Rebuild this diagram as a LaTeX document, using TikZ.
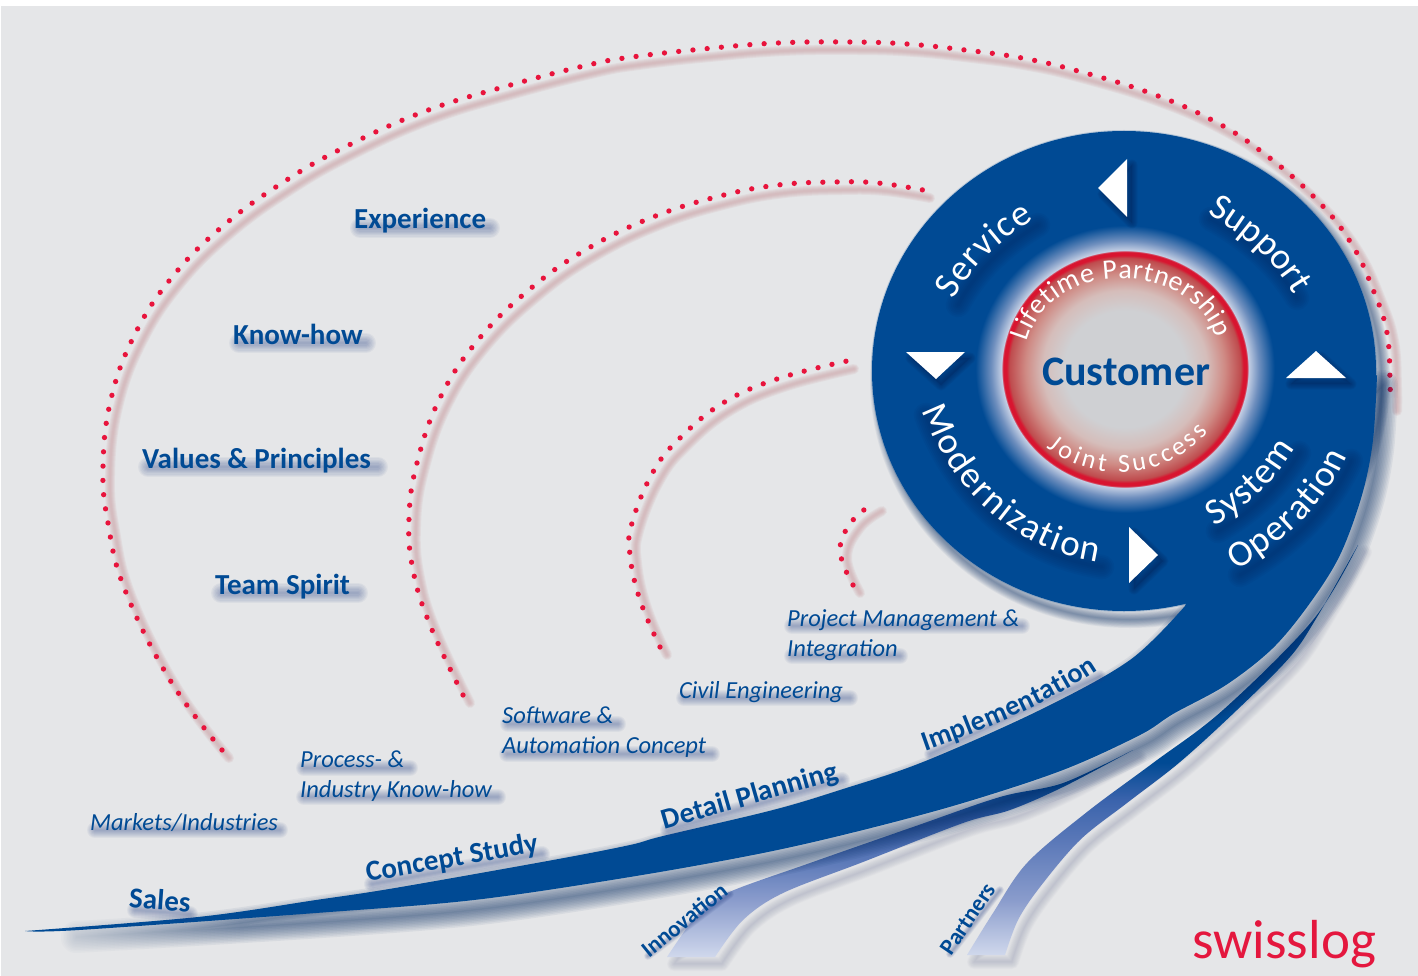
\documentclass[tikz,border=0pt]{standalone}
\usepackage{fontspec}
\usetikzlibrary{decorations.text,fadings}
\setmainfont{Carlito}
\definecolor{pagebg}{HTML}{E5E6E8}
\definecolor{navy}{HTML}{004A94}
\definecolor{smear}{HTML}{2B4487}
\definecolor{deep}{HTML}{00275F}
\definecolor{dotred}{HTML}{E8143C}
\definecolor{dotpink}{HTML}{C99A9E}
\definecolor{ribshadow}{HTML}{7F86A4}
\definecolor{logored}{HTML}{E4173E}
\definecolor{hubA}{HTML}{CFD0D3}
\definecolor{hubB}{HTML}{D5BDBA}
\definecolor{hubC}{HTML}{CF8A84}
\definecolor{hubD}{HTML}{BF4C4E}
\definecolor{hubE}{HTML}{D81530}
\definecolor{hubF}{HTML}{C4CFE4}
\definecolor{hubG}{HTML}{6F8FBE}
\definecolor{ribA}{HTML}{D0D8EC}
\definecolor{ribB}{HTML}{8A9CCC}
\definecolor{ribC}{HTML}{5A78B8}
\definecolor{ribD}{HTML}{3A63AC}
\pgfdeclareradialshading{hub}{\pgfpointorigin}{color(0bp)=(hubA); color(10bp)=(hubA); color(13.5bp)=(hubB); color(16.4bp)=(hubC); color(19bp)=(hubD); color(19.5bp)=(hubE); color(20.1bp)=(hubE); color(20.3bp)=(hubF); color(22bp)=(hubG); color(24.6bp)=(navy); color(50bp)=(navy)}
\pgfdeclareverticalshading{ribinno}{100bp}{color(0bp)=(ribA); color(25bp)=(ribA); color(38.8bp)=(ribB); color(48.4bp)=(ribC); color(58bp)=(ribD); color(68bp)=(navy); color(100bp)=(navy)}
\pgfdeclareverticalshading{ribpart}{100bp}{color(0bp)=(ribA); color(25bp)=(ribA); color(31.7bp)=(ribB); color(39bp)=(ribC); color(44bp)=(ribD); color(48.5bp)=(navy); color(100bp)=(navy)}
\tikzset{
  bold label/.style={text=navy,font=\fontsize{29}{30}\selectfont\bfseries,anchor=base west,inner sep=0pt},
  ital label/.style={text=navy,font=\fontsize{24.5}{30}\selectfont\itshape,anchor=base west,inner sep=0pt,align=left},
  flow label/.style={text=navy,font=\fontsize{29}{30}\selectfont\bfseries,inner sep=0pt},
  side label/.style={text=navy,font=\fontsize{23}{24}\selectfont\bfseries,inner sep=0pt},
  dot line/.style={dotred,line width=5.3pt,line cap=round,dash pattern=on 0pt off 14.3pt},
  arrow mark/.style={fill=white},
  curved white/.style={decorate,decoration={text along path,text align={fit to path},text color=white,text={#1}}},
}
\newcommand{\softbar}[3]{%
  \foreach \k in {1,...,8}
    \draw[smear,line cap=round,line width=#3*\k*.5 pt,opacity=.055,shift={(0,-2)}] #1 -- #2;}
\newcommand{\softcurve}[1]{%
  \foreach \k in {1,...,7}
    \draw[deep,line width=\k*3.5 pt,opacity=.07,line cap=round,shift={(4,5)}] #1;}
\newcommand{\softshape}[5]{%
  \fill[#3,opacity=#5,shift={#2}] #1;
  \foreach \k in {1,...,10}
    \draw[#3,line width=\k*#4 pt,opacity=#5,line join=round,shift={#2}] #1;}
\def\bandupper{(198,917)(316,900)(395,888)(553,860)(630,845)(663,836)(773,810)(840,790)(923,762)(1040,710)(1130,660)(1185,606)}
\def\bandlower{(1377,375)(1373,440)(1362,495)(1340,555)(1310,603)(1273,648)(1226,685)(1173,714)(1140,735)(1063,770)(963,803)(863,830)(763,853)(630,877)(474,900)(316,913)}
\def\bandpath{plot[smooth,tension=.55] coordinates {(25,931)\bandupper} -- (1230,500) -- plot[smooth,tension=.55] coordinates {\bandlower(79,930)(25,931)} -- cycle}
\def\bandshadow{plot[smooth,tension=.55] coordinates {(70,926)\bandupper} -- (1230,500) -- plot[smooth,tension=.55] coordinates {\bandlower(70,928)} -- cycle}
\def\discpath{(1124,371) ellipse [x radius=252,y radius=240]}
\def\innopath{plot[smooth,tension=.55] coordinates {(667,957)(697,915)(727,893)(810,863)(913,827)(1000,797)(1063,783)(1133,750)} -- plot[smooth,tension=.55] coordinates {(1133,750)(1063,787)(1010,810)(963,823)(863,862)(783,893)(743,920)(715,957)} -- cycle}
\def\partpath{plot[smooth,tension=.55] coordinates {(967,955)(993,913)(1027,863)(1087,812)(1153,763)(1223,710)(1313,620)(1358,545)} -- plot[smooth,tension=.55] coordinates {(1358,545)(1317,617)(1290,657)(1237,710)(1180,762)(1127,803)(1080,840)(1040,887)(1018,920)(1005,955)} -- cycle}
\def\pServ{(954,300) .. controls (972,266) and (999,241) .. (1034,220)}
\def\pSupp{(1207,214) .. controls (1240,232) and (1272,258) .. (1293,293)}
\def\pMode{(922,410) .. controls (948,480) and (1005,548) .. (1098,562)}
\def\pSyst{(1214,526) .. controls (1248,507) and (1275,482) .. (1295,448)}
\def\pOper{(1236,570) .. controls (1285,542) and (1325,505) .. (1347,456)}
\def\pLife{(1027,342) .. controls (1050,258) and (1190,258) .. (1216,338)}
\def\pJoin{(1047,447) .. controls (1090,483) and (1165,483) .. (1208,432)}
\def\pImpl{(925,751) .. controls (985,730) and (1045,705) .. (1098,670)}
\begin{document}
\begin{tikzpicture}[x=1pt,y=-1pt]
\useasboundingbox (0,0) rectangle (1418,976);
\fill[white] (0,0) rectangle (1418,976);
\fill[pagebg] (1,6) rectangle (1418,976);
% dotted arcs
\def\arcA{plot[smooth,tension=.7] coordinates {(222,750)(170,680)(125,590)(108,523)(103,467)(111,399)(135,334)(173,276)(223,226)(282,183)(343,148)(423,112)(507,86)(588,65)(632,57)(703,49)(777,43)(850,42)(907,44)(965,50)(1022,58)(1078,71)(1150,93)(1212,120)(1262,152)(1315,198)(1351,243)(1374,292)(1387,333)(1390,380)(1390,403)}}
\def\arcB{plot[smooth,tension=.7] coordinates {(463,695)(430,625)(413,570)(409,518)(417,463)(440,398)(478,340)(530,289)(587,249)(653,217)(720,196)(778,185)(835,182)(878,183)(923,190)}}
\def\arcC{plot[smooth,tension=.7] coordinates {(660,647)(640,600)(630,555)(632,523)(653,472)(680,438)(723,403)(777,379)(847,361)}}
\def\arcD{plot[smooth,tension=.7] coordinates {(853,585)(840,550)(853,520)(875,503)}}
\foreach \pth in {\arcA,\arcB,\arcC,\arcD}{
  \foreach \wd in {2,4,6,8,10}
    \draw[dotpink,line width=\wd pt,opacity=.14,line cap=round,shift={(7,8)}] \pth;
  \draw[dot line] \pth;
}
% side ribbons
\softshape{\innopath}{(7,7)}{ribshadow}{1.4}{.035}
\softshape{\partpath}{(7,7)}{ribshadow}{1.4}{.035}
\shade[shading=ribinno] \innopath;
\shade[shading=ribpart] \partpath;
% band and disc
\softshape{\bandshadow}{(6,10)}{deep}{3}{.06}
\softshape{\discpath}{(6,9)}{deep}{1.6}{.05}
\fill[pagebg,path fading=east] (1,905) rectangle (240,965);
\draw[navy,line width=2pt,opacity=.2] \discpath;
\fill[navy] \bandpath;
\fill[navy] \discpath;
\shade[shading=hub] (1125,369) ellipse [x radius=152,y radius=146];
% arrow marks
\foreach \tri in {{(1098,188)--(1127,159)--(1127,217)--cycle},{(906,352)--(965,352)--(936,379)--cycle},{(1286,378)--(1346,378)--(1316,351)--cycle},{(1129,527)--(1158,555)--(1129,583)--cycle}}{
  \foreach \wd in {1,3,5,7,9,11}
    \draw[deep,opacity=.11,line width=\wd pt,line join=round,shift={(5,6)}] \tri;
  \fill[deep,opacity=.3,shift={(5,6)}] \tri;
  \fill[arrow mark] \tri;
}
% shadows of disc texts
\softcurve{\pServ}
\softcurve{\pSupp}
\softcurve{\pMode}
\softcurve{\pSyst}
\softcurve{\pOper}
% disc texts
\path[curved white={|\fontsize{37}{37}\selectfont|Service}] \pServ;
\path[curved white={|\fontsize{37}{37}\selectfont|Support}] \pSupp;
\path[curved white={|\fontsize{37}{37}\selectfont|Modernization}] \pMode;
\path[curved white={|\fontsize{37}{37}\selectfont|System}] \pSyst;
\path[curved white={|\fontsize{37}{37}\selectfont|Operation}] \pOper;
\path[curved white={|\fontsize{28}{28}\selectfont|Lifetime Partnership}] \pLife;
\path[curved white={|\fontsize{26}{26}\selectfont|Joint Success}] \pJoin;
\node[text=navy,font=\fontsize{42}{44}\selectfont\bfseries,inner sep=0pt] (customer) at (1126,372) {Customer};
% left labels
\softbar{(360,230)}{(490,230)}{5}
\softbar{(239,345)}{(366,345)}{5}
\softbar{(148,469)}{(378,469)}{5}
\softbar{(221,595)}{(358,595)}{5}
\node[bold label] (experience) at (354,229) {Experience};
\node[bold label] (knowhow) at (233,344) {Know-how};
\node[bold label] (values) at (142,468) {Values \& Principles};
\node[bold label] (team) at (215,594) {Team Spirit};
% italic labels
\softbar{(95,832)}{(280,832)}{4}
\softbar{(304,770)}{(410,770)}{4}
\softbar{(304,799)}{(498,799)}{4}
\softbar{(508,726)}{(618,726)}{4}
\softbar{(507,756)}{(712,756)}{4}
\softbar{(684,700)}{(850,700)}{4}
\softbar{(792,628)}{(1022,628)}{4}
\softbar{(792,658)}{(900,658)}{4}
\node[ital label] (markets) at (90,830) {Markets/Industries};
\node[ital label,anchor=north west] (process) at (300,751) {Process- \&\\Industry Know-how};
\node[ital label,anchor=north west] (software) at (502,707) {Software \&\\Automation Concept};
\node[ital label] (civil) at (679,698) {Civil Engineering};
\node[ital label,anchor=north west] (project) at (787,609) {Project Management \&\\Integration};
% flow labels
\softbar{(135,912)}{(190,916)}{4}
\softbar{(372,886)}{(542,856)}{4}
\softbar{(668,832)}{(842,782)}{4}
\softbar{(930,756)}{(1100,678)}{3}
\node[flow label,rotate=-4] (sales) at (160,900) {Sales};
\node[flow label,rotate=10] (concept) at (452,859) {Concept Study};
\node[flow label,rotate=16] (detail) at (750,797) {Detail Planning};
\path[decorate,decoration={text along path,text align={fit to path},text color=navy,text={|\fontsize{28}{30}\selectfont\bfseries|Implementation}}] \pImpl;
\softbar{(648,958)}{(730,896)}{2}
\softbar{(950,956)}{(1000,892)}{2}
\node[side label,rotate=39] (innovation) at (684,920) {Innovation};
\node[side label,rotate=56] (partners) at (968,919) {Partners};
\node[text=logored,font=\fontsize{55}{55}\selectfont,anchor=base west,inner sep=0pt] (logo) at (1192,958) {swisslog};
\end{tikzpicture}
\end{document}
